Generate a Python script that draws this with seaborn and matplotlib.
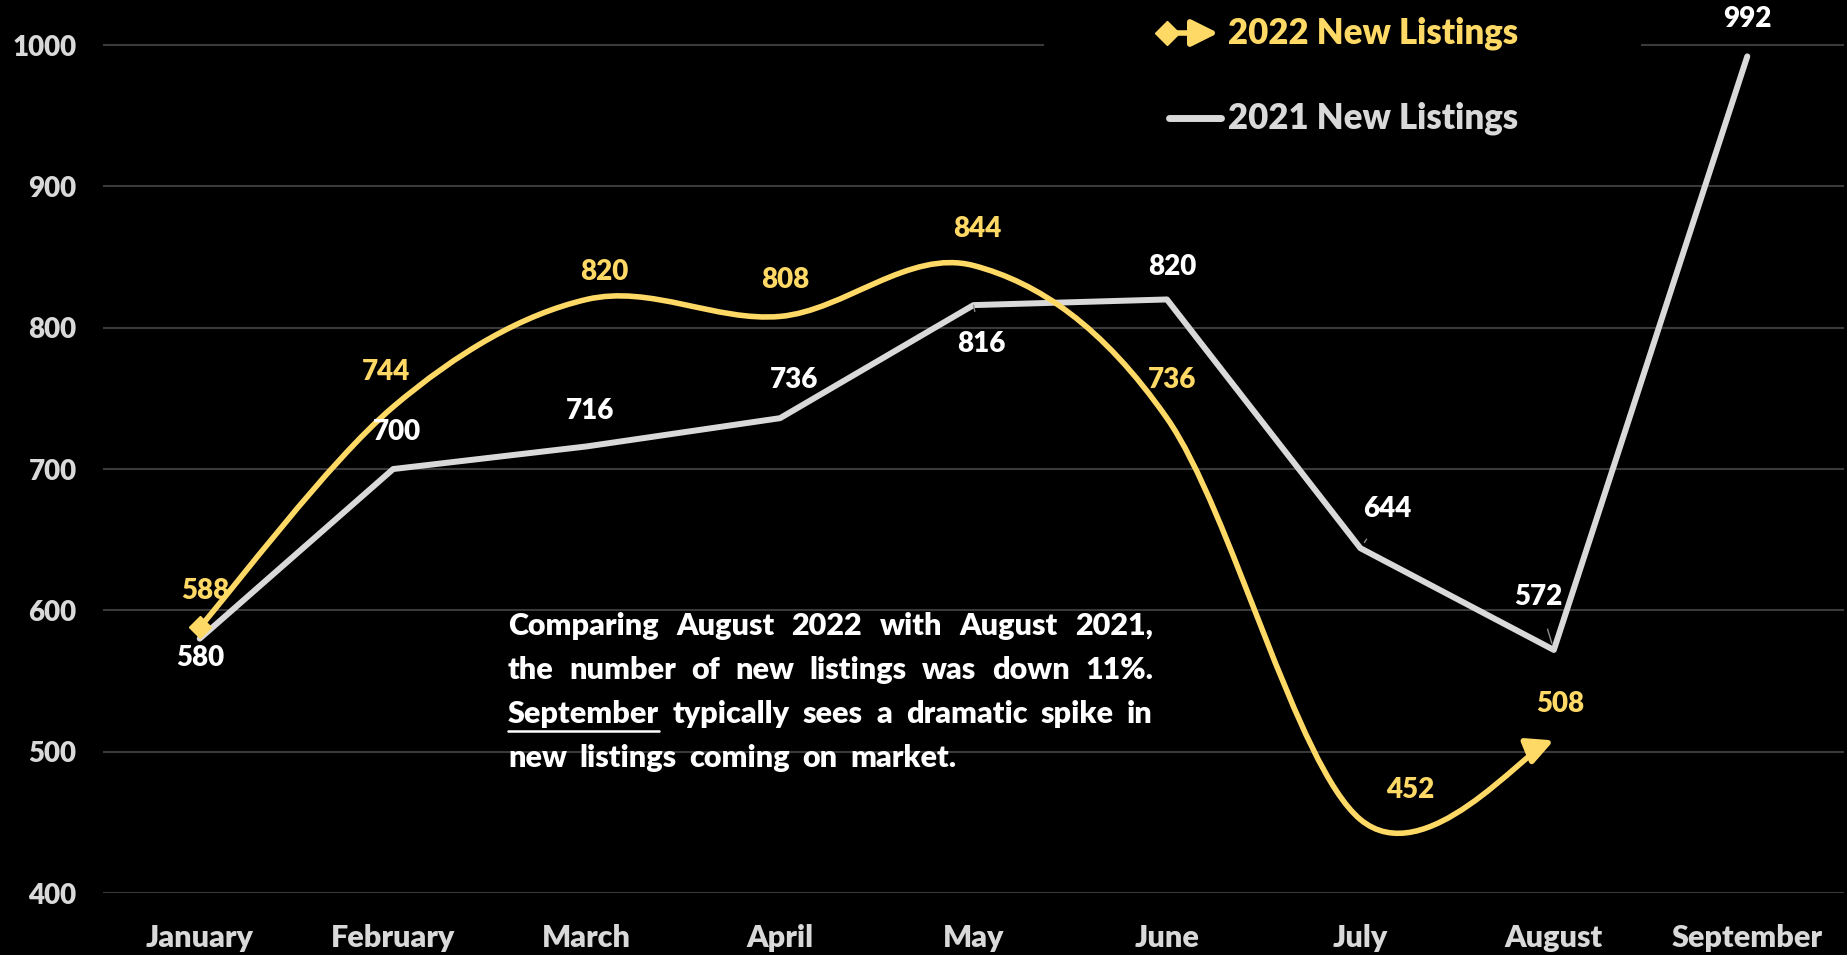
import numpy as np
import pandas as pd
import seaborn as sns
import matplotlib.pyplot as plt
from matplotlib.path import Path
from matplotlib.patches import FancyArrowPatch, Rectangle
from matplotlib.lines import Line2D

# data
months = ['January', 'February', 'March', 'April', 'May', 'June', 'July', 'August', 'September']
listings_2021 = [580, 700, 716, 736, 816, 820, 644, 572, 992]
listings_2022 = [588, 744, 820, 808, 844, 736, 452, 508]
y_ticks = [400, 500, 600, 700, 800, 900, 1000]
series_names = ['2022 New Listings', '2021 New Listings']

note_lines = ['Comparing August 2022 with August 2021,',
              'the number of new listings was down 11%.',
              'September typically sees a dramatic spike in',
              'new listings coming on market.']

# label offsets in pixels (dx, dy) from each point
off_2021 = [(0, -19), (4, 37), (3, 35), (14, 38), (8, -39), (5, 32), (27, 39), (-16, 53), (0, 37)]
off_2022 = [(6, 36), (-7, 35), (18, 27), (5, 36), (4, 37), (5, 38), (50, 30), (6, 36)]

YELLOW = '#FFD966'
GREY = '#D9D9D9'
W, H = 1847, 955
WT = 'heavy'

sns.set_theme(style='dark', rc={'axes.facecolor': 'black', 'figure.facecolor': 'black'})
plt.rcParams['font.family'] = ['Lato', 'DejaVu Sans']

fig = plt.figure(figsize=(W / 100, H / 100), dpi=100, facecolor='black')
ax = fig.add_axes([103 / W, 62 / H, 1741 / W, 893 / H])
ax.set_facecolor('black')

df21 = pd.DataFrame({'month': months, 'value': listings_2021})
sns.lineplot(data=df21, x='month', y='value', sort=False, color=GREY, lw=4.3,
             ax=ax, zorder=3, solid_capstyle='round', solid_joinstyle='round')

# smoothed 2022 line (bezier through the points, like Excel's smoothed line) ending in an arrow
pts = np.column_stack([np.arange(len(listings_2022)), listings_2022]).astype(float)
verts = [pts[0]]
codes = [Path.MOVETO]
n = len(pts)
for i in range(n - 1):
    p_prev = pts[max(i - 1, 0)]
    p_next2 = pts[min(i + 2, n - 1)]
    c1 = pts[i] + (pts[i + 1] - p_prev) / 6
    c2 = pts[i + 1] - (p_next2 - pts[i]) / 6
    verts += [c1, c2, pts[i + 1]]
    codes += [Path.CURVE4] * 3
curve = Path(verts, codes)
arrow = FancyArrowPatch(path=curve, arrowstyle='-|>,head_length=0.8,head_width=0.4',
                        mutation_scale=20, color=YELLOW, lw=4, transform=ax.transData,
                        zorder=4, joinstyle='round', capstyle='butt')
ax.add_patch(arrow)
ax.plot([0], [listings_2022[0]], marker='D', ms=11, color=YELLOW, zorder=4)

# value labels
for i, v in enumerate(listings_2021):
    dx, dy = off_2021[i]
    lead = dict(arrowstyle='-', color='#8C8C8C', lw=1, shrinkA=12, shrinkB=5) if i in (4, 6, 7) else None
    ax.annotate(str(v), (i, v), xytext=(dx, dy), textcoords='offset pixels',
                ha='center', va='center', fontsize=20, color='white', fontweight=WT,
                arrowprops=lead, zorder=6, annotation_clip=False)
for i, v in enumerate(listings_2022):
    dx, dy = off_2022[i]
    ax.annotate(str(v), (i, v), xytext=(dx, dy), textcoords='offset pixels',
                ha='center', va='center', fontsize=20, color=YELLOW, fontweight=WT,
                zorder=6, annotation_clip=False)

ax.set_xlim(-0.5, 8.5)
ax.set_ylim(400, 1031.9)
ax.set_yticks(y_ticks)
ax.set_xlabel('')
ax.set_ylabel('')
ax.grid(axis='y', color='#3A3A3A', lw=1.5)
ax.grid(axis='x', visible=False)
for s in ax.spines.values():
    s.set_visible(False)
ax.tick_params(axis='y', length=0, pad=19, labelsize=20, labelcolor=GREY)
ax.tick_params(axis='x', length=0, pad=22, labelsize=22, labelcolor=GREY)
for lab in ax.get_xticklabels() + ax.get_yticklabels():
    lab.set_fontweight(WT)

# legend (manual, black box hides gridline behind it)
fig.add_artist(Rectangle((1044 / W, 1 - 150 / H), (1641 - 1044) / W, 150 / H,
                         transform=fig.transFigure, facecolor='black', edgecolor='none', zorder=5))
fig.add_artist(FancyArrowPatch((1172 / W, 1 - 33 / H), (1221 / W, 1 - 33 / H),
                               transform=fig.transFigure, arrowstyle='-|>,head_length=0.8,head_width=0.4',
                               mutation_scale=20, color=YELLOW, lw=4, zorder=6))
fig.add_artist(Line2D([1167 / W], [1 - 33 / H], marker='D', ms=12, color=YELLOW,
                      transform=fig.transFigure, zorder=6))
fig.add_artist(Line2D([1169 / W, 1221 / W], [1 - 118 / H, 1 - 118 / H], lw=5, color=GREY,
                      solid_capstyle='round', transform=fig.transFigure, zorder=6))
fig.text(1228 / W, 1 - 33 / H, series_names[0], color=YELLOW, fontsize=25, fontweight=WT,
         va='center', ha='left', zorder=7)
fig.text(1228 / W, 1 - 118 / H, series_names[1], color=GREY, fontsize=25, fontweight=WT,
         va='center', ha='left', zorder=7)

# justified note text
renderer = fig.canvas.get_renderer()
x0, x1, x_last = 508, 1153, 956
for li, line in enumerate(note_lines):
    yb = 635 + li * 44
    words = line.split()
    texts = [fig.text(0, 0, w, color='white', fontsize=22, fontweight=WT, va='baseline', zorder=7)
             for w in words]
    widths = [t.get_window_extent(renderer).width for t in texts]
    end = x1 if li < len(note_lines) - 1 else x_last
    gap = (end - x0 - sum(widths)) / (len(words) - 1)
    x = x0
    for t, wd in zip(texts, widths):
        t.set_position((x / W, 1 - yb / H))
        if t.get_text() == 'September':
            fig.add_artist(Line2D([x / W, (x + wd) / W], [1 - (yb + 8) / H] * 2, color='white', lw=1.8,
                                  transform=fig.transFigure, zorder=7))
        x += wd + gap

fig.savefig('out.png', dpi=100, facecolor='black')
